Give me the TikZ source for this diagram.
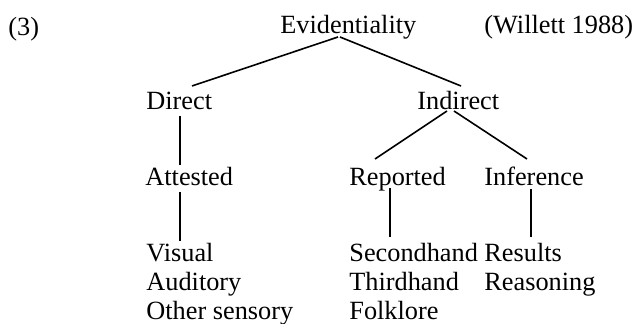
\documentclass[tikz,border=0pt]{standalone}
\usepackage{fontspec}
\setmainfont{Liberation Serif}
\usetikzlibrary{calc}

\begin{document}
\begin{tikzpicture}[
  x = 0.5pt, y = -0.5pt,
  every node/.style = {inner sep=0pt, anchor=base west, font=\fontsize{13.15pt}{14.5pt}\selectfont},
  list/.style = {align=left},
  branch/.style = {line width=0.8pt},
  twig/.style = {line width=0.55pt}
  ]
  \useasboundingbox (0,0) rectangle (637,324);

  \node (@num) at (8,36) {(3)};
  \node (@ev) at (280,34) {Evidentiality};
  \node (@src) at (484,34) {(Willett 1988)};

  \node (@dir) at (146,110) {Direct};
  \node (@ind) at (417,110) {Indirect};

  \node (@att) at (145,186) {Attested};
  \node (@rep) at (349,186) {Reported};
  \node (@inf) at (484,186) {Inference};

  % base of a list node is its last line
  \node[list] (@sens) at (146,320) {Visual\\Auditory\\Other sensory};
  \node[list] (@hand) at (349,320) {Secondhand\\Thirdhand\\Folklore};
  \node[list] (@res) at (484,291) {Results\\Reasoning};

  \draw[branch] ($(@ev.base west)+(58,3)$) -- ($(@dir.base west)+(46,-24)$);
  \draw[branch] ($(@ev.base west)+(60,3)$) -- ($(@ind.base west)+(44,-24)$);
  \draw[branch] ($(@dir.base west)+(34,6)$) -- ($(@att.base west)+(35,-21)$);
  \draw[branch] ($(@att.base west)+(35,6)$) -- ($(@sens.base west)+(34,-79)$);
  \draw[branch] ($(@ind.base west)+(30,1)$) -- ($(@rep.base west)+(26,-27)$);
  \draw[branch] ($(@ind.base west)+(37,1)$) -- ($(@inf.base west)+(43,-27)$);
  \draw[twig] ($(@rep.base west)+(41,2)$) -- ($(@hand.base west)+(41,-83)$);
  \draw[twig] ($(@inf.base west)+(47,3)$) -- ($(@res.base west)+(47,-54)$);
\end{tikzpicture}
\end{document}
